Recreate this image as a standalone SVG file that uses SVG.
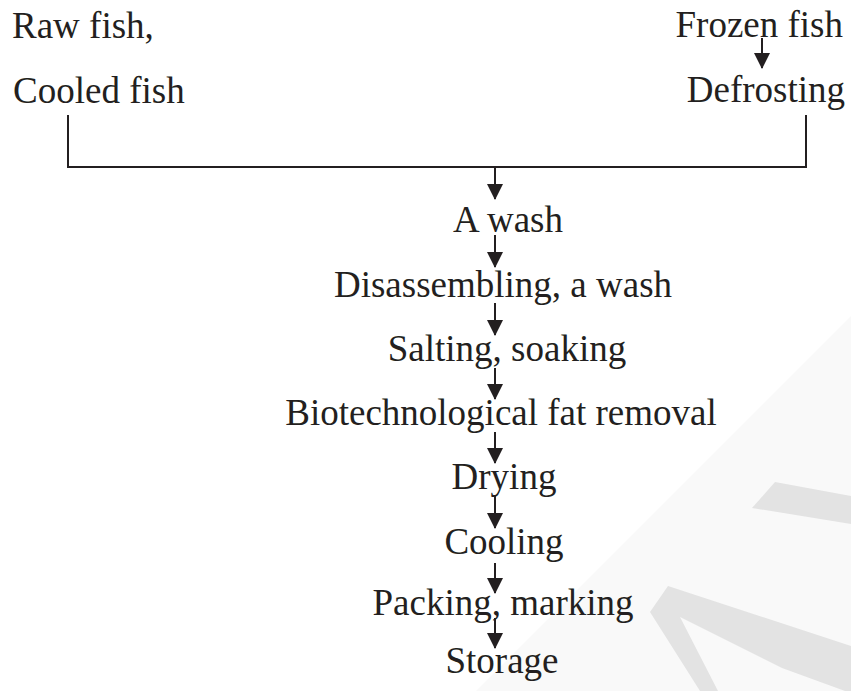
<svg xmlns="http://www.w3.org/2000/svg" width="851" height="691" viewBox="0 0 851 691">
  <defs>
    <style>
      text { font-family: "Liberation Serif", "Times New Roman", serif; font-size: 37px; fill: #231f20; }
      .mid { text-anchor: middle; }
      .end { text-anchor: end; }
      .conn { stroke: #231f20; stroke-width: 2; fill: none; }
      .arrow { stroke: #231f20; stroke-width: 2; fill: none; marker-end: url(#ah); }
      .wm { fill: #e3e3e3; }
    </style>
    <marker id="ah" markerUnits="userSpaceOnUse" markerWidth="18" markerHeight="16" viewBox="0 0 16 16" refX="15" refY="8" orient="auto">
      <path d="M0,0 L16,8 L0,16 Z" fill="#231f20"/>
    </marker>
  </defs>
  <rect width="851" height="691" fill="#ffffff"/>
  <g id="watermark">
    <polygon points="851,316 851,691 476,691" fill="#f9f9f9"/>
    <polygon class="wm" points="752,508 775,482 851,496 851,524"/>
    <polygon class="wm" points="650,612 668,586 851,646 851,691 845,691 782,668 680,617 718,691 700,691"/>
  </g>
  <g id="raw-fish"><text x="12" y="38">Raw fish,</text></g>
  <g id="cooled-fish"><text x="13" y="103">Cooled fish</text></g>
  <g id="frozen-fish"><text class="end" x="843" y="37">Frozen fish</text></g>
  <g id="defrosting"><text class="end" x="845" y="102">Defrosting</text></g>
  <g id="wash"><text class="mid" x="508" y="232">A wash</text></g>
  <g id="disassembling"><text class="mid" x="503" y="297">Disassembling, a wash</text></g>
  <g id="salting"><text class="mid" x="507" y="361">Salting, soaking</text></g>
  <g id="fat-removal"><text class="mid" x="501" y="425">Biotechnological fat removal</text></g>
  <g id="drying"><text class="mid" x="504" y="489">Drying</text></g>
  <g id="cooling"><text class="mid" x="504" y="554">Cooling</text></g>
  <g id="packing"><text class="mid" x="503" y="615">Packing, marking</text></g>
  <g id="storage"><text class="mid" x="502" y="673">Storage</text></g>
  <g id="connectors">
    <polyline class="conn" points="68,115 68,167 806,167 806,115"/>
    <line class="arrow" x1="762" y1="38" x2="762" y2="68"/>
    <line class="arrow" x1="495" y1="167" x2="495" y2="199"/>
    <line class="arrow" x1="495" y1="235" x2="495" y2="267"/>
    <line class="arrow" x1="495" y1="303" x2="495" y2="335"/>
    <line class="arrow" x1="495" y1="368" x2="495" y2="399"/>
    <line class="arrow" x1="495" y1="432" x2="495" y2="463"/>
    <line class="arrow" x1="495" y1="495" x2="495" y2="528"/>
    <line class="arrow" x1="495" y1="563" x2="495" y2="593"/>
    <line class="arrow" x1="495" y1="618" x2="495" y2="648"/>
  </g>
</svg>
